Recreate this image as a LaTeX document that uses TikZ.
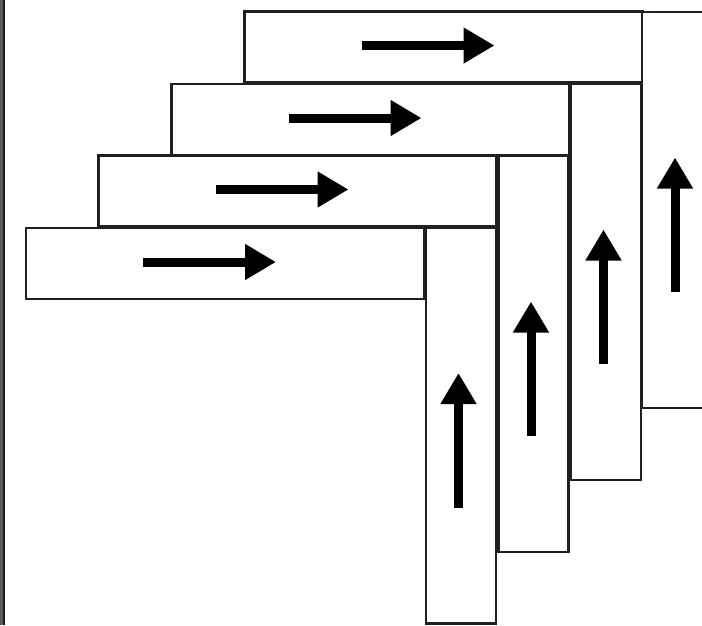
\documentclass[tikz,border=0pt]{standalone}
\usetikzlibrary{arrows.meta,calc}
\definecolor{edge}{HTML}{231F20}
\definecolor{frameline}{HTML}{5A5A5A}
\definecolor{framedark}{HTML}{1E1E1E}
\begin{document}
\begin{tikzpicture}[x=1pt,y=-1pt,
  bar/.style={draw=edge,line width=2.2pt,rectangle,inner sep=0pt,outer sep=0pt,fill=white},
  hbar/.style={bar,minimum width=398pt,minimum height=71pt},
  vbar/.style={bar,minimum width=70pt,minimum height=396pt},
  flow/.style={line width=9pt,black,-{Triangle[length=31pt,width=34pt]}}]
\useasboundingbox (0,0) rectangle (702,625);
\clip (0,0) rectangle (702,625);
\fill[white] (0,0) rectangle (702,625);
% left frame line
\coordinate (ft) at (1.5,0);
\coordinate (fb) at (1.5,625);
\coordinate (gt) at (4,0);
\coordinate (gb) at (4,625);
\draw[frameline,line width=3pt] (ft) -- (fb);
\draw[framedark,line width=2pt] (gt) -- (gb);
% horizontal bars
\node[hbar] (h4) at (225,263.5) {};
\node[hbar] (h3) at (297.5,191) {};
\node[hbar] (h2) at (370.5,119.5) {};
\node[hbar] (h1) at (443.5,47) {};
% vertical bars
\node[vbar] (v4) at (461,425.5) {};
\node[vbar] (v3) at (533.5,354) {};
\node[vbar] (v2) at (606,282) {};
\node[vbar,minimum width=71pt] (v1) at (677.5,210) {};
% arrows
\foreach \k in {1,2,3,4}{
  \coordinate (hs\k) at ([shift={(-82,-1.5)}]h\k.center);
  \coordinate (he\k) at ([shift={(51,-1.5)}]h\k.center);
  \coordinate (vs\k) at ([shift={(-2.5,82)}]v\k.center);
  \coordinate (ve\k) at ([shift={(-2.5,-52.5)}]v\k.center);
  \draw[flow] (hs\k) -- (he\k);
  \draw[flow] (vs\k) -- (ve\k);
}
\end{tikzpicture}
\end{document}
